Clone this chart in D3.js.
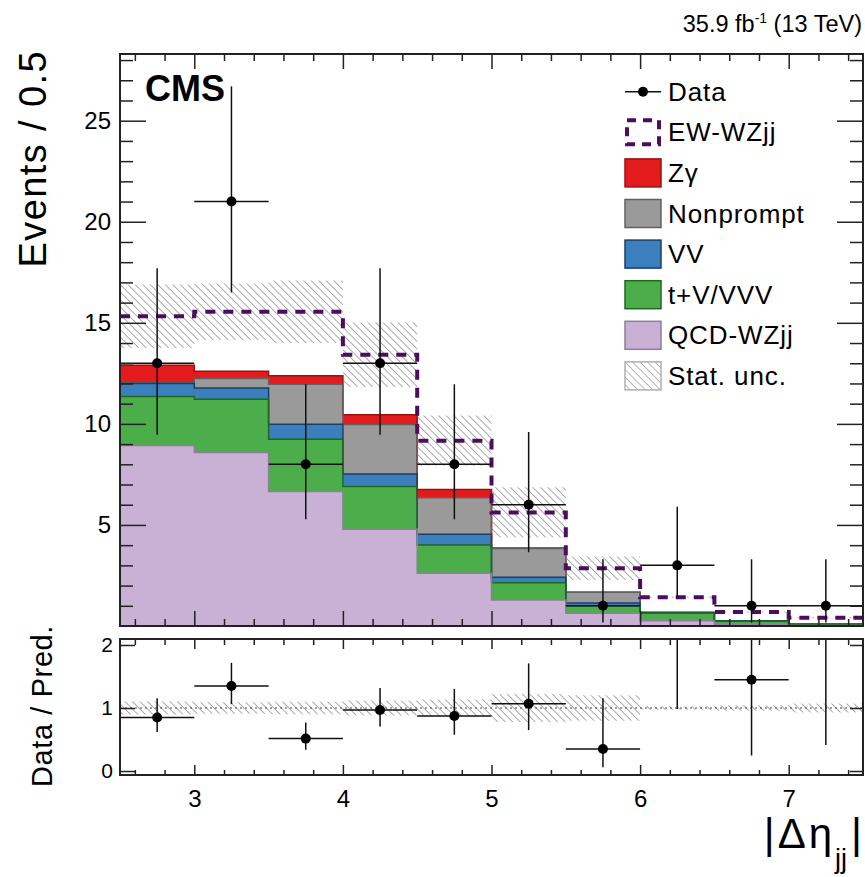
<!DOCTYPE html>
<html>
<head>
<meta charset="utf-8">
<script src="https://cdn.jsdelivr.net/npm/d3@7"></script>
<style>
  body { margin: 0; background: #fff; }
  svg text { font-family: "Liberation Sans", Arial, Helvetica, sans-serif; fill: #000; }
</style>
</head>
<body>
<svg id="chart" width="865" height="877"></svg>
<script>
// Bin edges in |Δη_jj| (bin width 0.5)
const binEdges = [2.5, 3, 3.5, 4, 4.5, 5, 5.5, 6, 6.5, 7, 7.5];

// Expected events per bin for each process (stacked bottom to top)
const qcdWZjj   = [8.93, 8.58, 6.65, 4.79, 2.61, 1.29, 0.63, 0.26, 0.06, 0.02];
const tVVVV     = [2.42, 2.64, 2.59, 2.11, 1.40, 0.85, 0.37, 0.38, 0.18, 0.06];
const vv        = [0.65, 0.56, 0.74, 0.62, 0.53, 0.27, 0.14, 0.03, 0.01, 0.01];
const nonprompt = [0.03, 0.47, 1.98, 2.45, 1.80, 1.42, 0.53, 0.00, 0.00, 0.00];
const zgamma    = [0.87, 0.35, 0.42, 0.48, 0.41, 0.03, 0.00, 0.00, 0.00, 0.00];
const ewWZjj    = [2.42, 2.95, 3.17, 2.97, 2.42, 1.76, 1.19, 0.75, 0.44, 0.32];

// Statistical uncertainty (half width) on the total prediction
const statUnc   = [1.57, 1.40, 1.55, 1.60, 1.24, 1.24, 0.58, 0.04, 0.03, 0.03];

// Observed data and the edges of its 68% interval
const dataCounts  = [13, 21, 8, 13, 8, 6, 1, 3, 1, 1];
const dataErrLow  = [9.46, 16.5, 5.28, 9.46, 5.28, 3.65, 0.17, 1.40, 0.17, 0.17];
const dataErrHigh = [17.7, 26.7, 11.96, 17.7, 11.96, 9.6, 3.30, 5.90, 3.30, 3.30];

// Tick labels
const xTickLabels     = [3, 4, 5, 6, 7];
const yTickLabels     = [5, 10, 15, 20, 25];
const ratioTickLabels = [0, 1, 2];

// Legend entries (top to bottom)
const legendLabels = ["Data", "EW-WZjj", "Zγ", "Nonprompt", "VV", "t+V/VVV", "QCD-WZjj", "Stat. unc."];

const layerKeys = ["qcd", "tv", "vv", "np", "zg"];
const layerStyle = {
  qcd: { fill: "#c9b1d6", stroke: "#8e7e99" },
  tv:  { fill: "#4cae4a", stroke: "#1d6a1f" },
  vv:  { fill: "#3b7fbd", stroke: "#173f6b" },
  np:  { fill: "#9a9a9a", stroke: "#616161" },
  zg:  { fill: "#e41b1d", stroke: "#9c1010" }
};
const ewColor = "#4e0c5e";

const svg = d3.select("#chart");
const L = 120, R = 863, mainTop = 54, mainBottom = 626, ratTop = 639, ratBottom = 775;

const x  = d3.scaleLinear().domain([2.5, 7.5]).range([L, R]);
const y  = d3.scaleLinear().domain([0, 28.3]).range([mainBottom, mainTop]);
const yr = d3.scaleLinear().domain([-0.063, 2.095]).range([ratBottom, ratTop]);

const defs = svg.append("defs");
function hatchPattern(id, spacing, color, w) {
  defs.append("pattern")
    .attr("id", id).attr("patternUnits", "userSpaceOnUse")
    .attr("width", spacing).attr("height", spacing)
    .attr("patternTransform", "rotate(-45)")
    .append("line")
    .attr("x1", 0).attr("y1", 0).attr("x2", 0).attr("y2", spacing)
    .attr("stroke", color).attr("stroke-width", w);
}
hatchPattern("hatch", 5.3, "#7a7a7a", 1.25);
hatchPattern("hatchLeg", 5.3, "#8a8a8a", 1.2);

defs.append("clipPath").attr("id", "clipMain")
  .append("rect").attr("x", L).attr("y", mainTop).attr("width", R - L).attr("height", mainBottom - mainTop);
defs.append("clipPath").attr("id", "clipRatio")
  .append("rect").attr("x", L).attr("y", ratTop).attr("width", R - L).attr("height", ratBottom - ratTop);

// ---------- stacked prediction ----------
const rows = binEdges.slice(0, -1).map((_, i) => ({
  qcd: qcdWZjj[i], tv: tVVVV[i], vv: vv[i], np: nonprompt[i], zg: zgamma[i]
}));
const stacked = d3.stack().keys(layerKeys)(rows);
const total = rows.map((r, i) => qcdWZjj[i] + tVVVV[i] + vv[i] + nonprompt[i] + zgamma[i] + ewWZjj[i]);

const nb = binEdges.length - 1;
const stepPts = (lo, hi) => binEdges.map((e, j) => ({ e, lo: lo(Math.min(j, nb - 1)), hi: hi(Math.min(j, nb - 1)) }));

const main = svg.append("g").attr("clip-path", "url(#clipMain)");
const area = d3.area().curve(d3.curveStepAfter).x(d => x(d.e)).y0(d => y(d.lo)).y1(d => y(d.hi));
const topLine = d3.line().curve(d3.curveStepAfter).x(d => x(d.e)).y(d => y(d.hi));

stacked.forEach(s => {
  main.append("path")
    .attr("d", area(stepPts(i => s[i][0], i => s[i][1])))
    .attr("fill", layerStyle[s.key].fill);
});
// outlines: upper layers first so lower-layer edges end on top
stacked.slice().reverse().forEach(s => {
  main.append("path")
    .attr("d", topLine(stepPts(i => s[i][0], i => s[i][1])))
    .attr("fill", "none")
    .attr("stroke", layerStyle[s.key].stroke)
    .attr("stroke-width", 1.5);
});

// statistical uncertainty band
main.append("path")
  .attr("d", area(stepPts(i => total[i] - statUnc[i], i => total[i] + statUnc[i])))
  .attr("fill", "url(#hatch)");

// EW-WZjj on top of the stack (dashed)
main.append("path")
  .attr("d", topLine(stepPts(i => 0, i => total[i])))
  .attr("fill", "none")
  .attr("stroke", ewColor)
  .attr("stroke-width", 4)
  .attr("stroke-dasharray", "10,8");

// data
const dataG = main.append("g");
dataCounts.forEach((n, i) => {
  const xc = x((binEdges[i] + binEdges[i + 1]) / 2);
  dataG.append("line").attr("x1", xc).attr("x2", xc)
    .attr("y1", y(dataErrLow[i])).attr("y2", y(dataErrHigh[i]))
    .attr("stroke", "#111").attr("stroke-width", 1.5);
  dataG.append("line").attr("x1", x(binEdges[i])).attr("x2", x(binEdges[i + 1]))
    .attr("y1", y(n)).attr("y2", y(n))
    .attr("stroke", "#111").attr("stroke-width", 1.5);
  dataG.append("circle").attr("cx", xc).attr("cy", y(n)).attr("r", 5).attr("fill", "#000");
});

// ---------- ratio panel ----------
const ratio = svg.append("g").attr("clip-path", "url(#clipRatio)");
const rArea = d3.area().curve(d3.curveStepAfter).x(d => x(d.e)).y0(d => yr(d.lo)).y1(d => yr(d.hi));
ratio.append("path")
  .attr("d", rArea(stepPts(i => 1 - statUnc[i] / total[i], i => 1 + statUnc[i] / total[i])))
  .attr("fill", "url(#hatch)");
ratio.append("line")
  .attr("x1", L).attr("x2", R).attr("y1", yr(1)).attr("y2", yr(1))
  .attr("stroke", "#444").attr("stroke-width", 1).attr("stroke-dasharray", "2,3");

dataCounts.forEach((n, i) => {
  const p = total[i];
  const rv = n / p;
  const xc = x((binEdges[i] + binEdges[i + 1]) / 2);
  ratio.append("line").attr("x1", xc).attr("x2", xc)
    .attr("y1", yr(dataErrLow[i] / p)).attr("y2", yr(dataErrHigh[i] / p))
    .attr("stroke", "#111").attr("stroke-width", 1.5);
  if (rv <= yr.domain()[1]) {
    ratio.append("line").attr("x1", x(binEdges[i])).attr("x2", x(binEdges[i + 1]))
      .attr("y1", yr(rv)).attr("y2", yr(rv))
      .attr("stroke", "#111").attr("stroke-width", 1.5);
    ratio.append("circle").attr("cx", xc).attr("cy", yr(rv)).attr("r", 5).attr("fill", "#000");
  }
});

// ---------- axes ----------
const xMinor = d3.range(2.6, 7.45, 0.2).map(v => +v.toFixed(1)).filter(v => Math.abs(v - Math.round(v)) > 1e-6);
const yMinor = d3.range(1, 29).filter(v => v % 5 !== 0);

function styleAxis(g, fontSize) {
  g.select(".domain").remove();
  g.selectAll(".tick line").attr("stroke", "#222").attr("stroke-width", 1.5);
  g.selectAll(".tick text").attr("font-size", fontSize).attr("fill", "#000")
    .style("font-family", '"Liberation Sans", Arial, sans-serif');
  g.attr("font-family", null).attr("font-size", null);
}
function addAxis(gen, tx, ty, fontSize) {
  svg.append("g").attr("transform", `translate(${tx},${ty})`).call(gen).call(g => styleAxis(g, fontSize));
}

// main panel ticks (pointing inward on all four sides)
addAxis(d3.axisLeft(y).tickValues(yTickLabels).tickSize(-26).tickPadding(9).tickFormat(d3.format("d")), L, 0, 24);
addAxis(d3.axisLeft(y).tickValues(yMinor).tickSize(-13).tickFormat(""), L, 0, 0);
addAxis(d3.axisRight(y).tickValues(yTickLabels).tickSize(-26).tickFormat(""), R, 0, 0);
addAxis(d3.axisRight(y).tickValues(yMinor).tickSize(-13).tickFormat(""), R, 0, 0);
addAxis(d3.axisTop(x).tickValues(xTickLabels).tickSize(-15).tickFormat(""), 0, mainTop, 0);
addAxis(d3.axisTop(x).tickValues(xMinor).tickSize(-7).tickFormat(""), 0, mainTop, 0);
addAxis(d3.axisBottom(x).tickValues(xTickLabels).tickSize(-15).tickFormat(""), 0, mainBottom, 0);
addAxis(d3.axisBottom(x).tickValues(xMinor).tickSize(-7).tickFormat(""), 0, mainBottom, 0);

// ratio panel ticks
addAxis(d3.axisLeft(yr).tickValues(ratioTickLabels).tickSize(-15).tickPadding(7).tickFormat(d3.format("d")), L, 0, 21);
addAxis(d3.axisRight(yr).tickValues(ratioTickLabels).tickSize(-13).tickFormat(""), R, 0, 0);
addAxis(d3.axisTop(x).tickValues(xTickLabels).tickSize(-10).tickFormat(""), 0, ratTop, 0);
addAxis(d3.axisTop(x).tickValues(xMinor).tickSize(-6).tickFormat(""), 0, ratTop, 0);
addAxis(d3.axisBottom(x).tickValues(xTickLabels).tickSize(-10).tickPadding(15).tickFormat(d3.format("d")), 0, ratBottom, 24);
addAxis(d3.axisBottom(x).tickValues(xMinor).tickSize(-5).tickFormat(""), 0, ratBottom, 0);

// frames
[[mainTop, mainBottom], [ratTop, ratBottom]].forEach(([t, b]) => {
  svg.append("rect").attr("x", L).attr("y", t).attr("width", R - L).attr("height", b - t)
    .attr("fill", "none").attr("stroke", "#222").attr("stroke-width", 2);
});

// ---------- titles ----------
svg.append("text").attr("x", 145).attr("y", 101)
  .attr("font-size", 36).attr("font-weight", "bold").text("CMS");

const lumi = svg.append("text").attr("x", 862).attr("y", 32).attr("text-anchor", "end").attr("font-size", 23.5);
lumi.append("tspan").text("35.9 fb");
lumi.append("tspan").attr("font-size", 14).attr("dy", -9).text("-1");
lumi.append("tspan").attr("dy", 9).text(" (13 TeV)");

svg.append("text")
  .attr("transform", "translate(46,50) rotate(-90)")
  .attr("text-anchor", "end").attr("font-size", 38).attr("letter-spacing", 1.4)
  .text("Events / 0.5");

svg.append("text")
  .attr("transform", "translate(52,625) rotate(-90)")
  .attr("text-anchor", "end").attr("font-size", 29).attr("letter-spacing", 0.6)
  .text("Data / Pred.");

const xt = svg.append("text").attr("x", 862).attr("y", 848).attr("text-anchor", "end").attr("font-size", 42);
xt.append("tspan").attr("letter-spacing", 3).text("|Δη");
xt.append("tspan").attr("font-size", 27).attr("dy", 20).attr("letter-spacing", 0).text("jj");
xt.append("tspan").attr("dx", 4).attr("dy", -20).text("|");

// ---------- legend ----------
const legX = 625, legW = 36, legH = 28, legY0 = 91.7, legDy = 40.6, legTextX = 668;
const leg = svg.append("g");
legendLabels.forEach((lab, k) => {
  const cy = legY0 + k * legDy;
  if (k === 0) {
    leg.append("line").attr("x1", legX).attr("x2", legX + legW).attr("y1", cy).attr("y2", cy)
      .attr("stroke", "#111").attr("stroke-width", 1.5);
    leg.append("circle").attr("cx", legX + legW / 2).attr("cy", cy).attr("r", 5).attr("fill", "#000");
  } else if (k === 1) {
    leg.append("rect").attr("x", legX + 2).attr("y", cy - legH / 2 + 2).attr("width", legW - 4).attr("height", legH - 4)
      .attr("fill", "none").attr("stroke", ewColor).attr("stroke-width", 4).attr("stroke-dasharray", "9,7");
  } else if (k === 7) {
    leg.append("rect").attr("x", legX).attr("y", cy - legH / 2).attr("width", legW).attr("height", legH)
      .attr("fill", "url(#hatchLeg)").attr("stroke", "#b0b0b0").attr("stroke-width", 1.5);
  } else {
    const key = ["zg", "np", "vv", "tv", "qcd"][k - 2];
    leg.append("rect").attr("x", legX).attr("y", cy - legH / 2).attr("width", legW).attr("height", legH)
      .attr("fill", layerStyle[key].fill).attr("stroke", layerStyle[key].stroke).attr("stroke-width", 1.5);
  }
  leg.append("text").attr("x", legTextX).attr("y", cy + 9).attr("font-size", 26).attr("letter-spacing", 0.9)
    .text(lab);
});
</script>
</body>
</html>
